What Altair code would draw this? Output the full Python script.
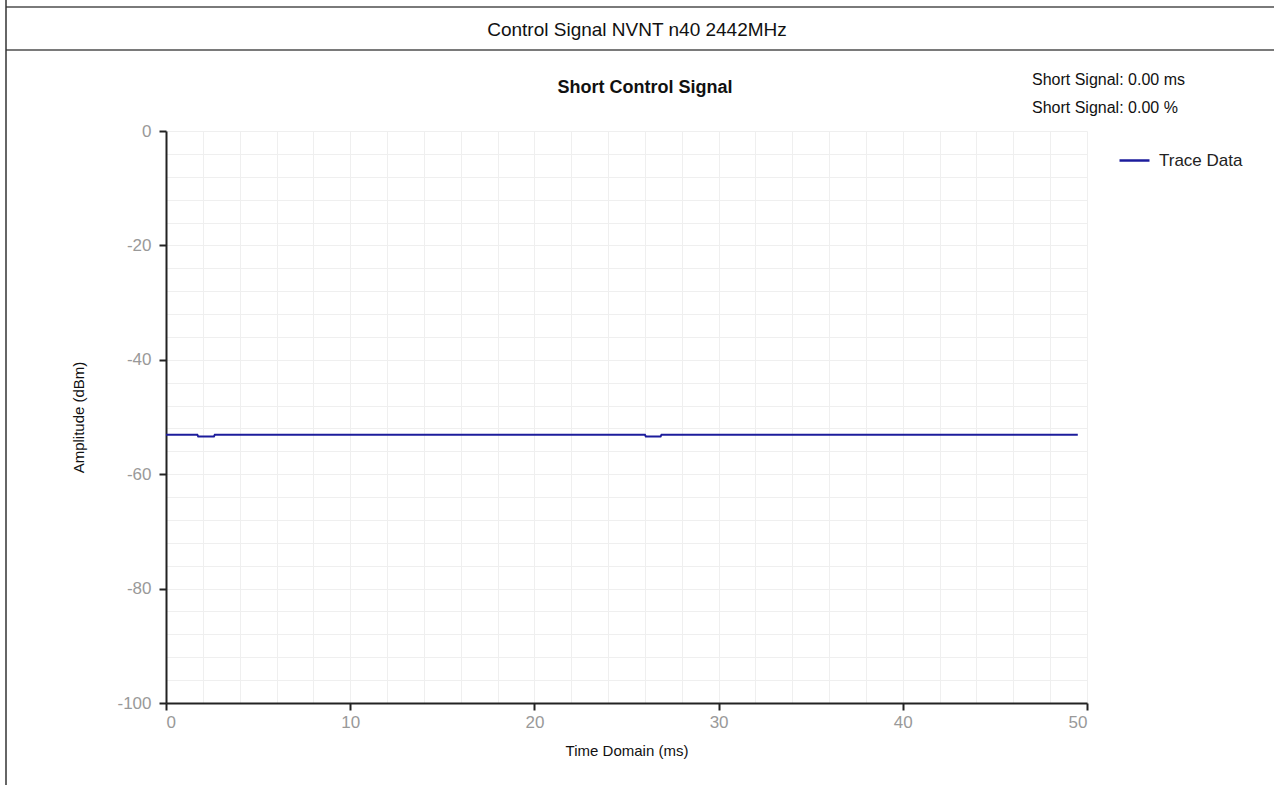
import altair as alt
import pandas as pd

# Trace samples: time (ms) and amplitude (dBm)
time_ms = [0.0, 1.7, 1.75, 2.6, 2.65, 26.0, 26.05, 26.85, 26.9, 49.5]
amplitude_dbm = [-53.1, -53.1, -53.4, -53.4, -53.1, -53.1, -53.4, -53.4, -53.1, -53.1]
series_name = ["Trace Data"] * len(time_ms)

page_title = ["Control Signal NVNT n40 2442MHz"]
chart_title = ["Short Control Signal"]
result_lines = ["Short Signal: 0.00 ms", "Short Signal: 0.00 %"]

x_ticks = list(range(0, 51, 2))
y_ticks = list(range(-100, 1, 4))

NARROW = "Liberation Sans Narrow, Arial Narrow, Liberation Sans, Arial, sans-serif"
SANS = "Liberation Sans, Arial, sans-serif"
LINE_COLOR = "#1c1c9c"
FRAME = "#7a7a7a"

W, H = 921, 572
PAD_L, PAD_T = 166, 131
PAGE_W, PAGE_H = 1274, 785

trace = pd.DataFrame({"t": time_ms, "a": amplitude_dbm, "s": series_name})

line = alt.Chart(trace).mark_line(strokeWidth=2, clip=True).encode(
    x=alt.X(
        "t:Q",
        scale=alt.Scale(domain=[0, 50], nice=False, zero=False),
        axis=alt.Axis(
            values=x_ticks,
            labelExpr="datum.value % 10 == 0 ? '' + datum.value : ''",
            tickOpacity={"condition": {"test": "datum.value % 10 == 0", "value": 1}, "value": 0},
            title="Time Domain (ms)",
            titleY=47,
            titleBaseline="middle",
        ),
    ),
    y=alt.Y(
        "a:Q",
        scale=alt.Scale(domain=[-100, 0], nice=False, zero=False),
        axis=alt.Axis(
            values=y_ticks,
            labelExpr="datum.value % 20 == 0 ? '' + datum.value : ''",
            tickOpacity={"condition": {"test": "datum.value % 20 == 0", "value": 1}, "value": 0},
            title="Amplitude (dBm)",
            titleX=-88,
            titleY=286,
            titleBaseline="middle",
            titleAngle=270,
        ),
    ),
    color=alt.Color(
        "s:N",
        scale=alt.Scale(range=[LINE_COLOR]),
        legend=alt.Legend(
            title=None,
            orient="none",
            legendX=952,
            legendY=13,
            symbolType="stroke",
            symbolSize=900,
            symbolStrokeWidth=2.5,
            labelFont=NARROW,
            labelFontSize=17,
            labelColor="#222",
            labelOffset=8,
        ),
    ),
)


def text_layer(values, x, y, size, font, weight="normal", align="left"):
    df = pd.DataFrame({"label": values})
    return alt.Chart(df).mark_text(
        align=align, baseline="middle", fontSize=size, font=font,
        fontWeight=weight, color="#111",
    ).encode(text="label:N", x=alt.value(x), y=alt.value(y))


title_txt = text_layer(page_title, PAGE_W / 2 - PAD_L, 30 - PAD_T, 19, SANS, align="center")
chart_title_txt = text_layer(chart_title, 479, -43, 18, NARROW, weight="bold", align="center")
result_1 = text_layer(result_lines[:1], 866, -51, 16, NARROW)
result_2 = text_layer(result_lines[1:], 866, -23, 16, NARROW)

# Table frame around the chart
frame_df = pd.DataFrame({"k": [0]})
top_rule = alt.Chart(frame_df).mark_rule(color=FRAME, strokeWidth=2).encode(
    x=alt.value(-PAD_L + 6), x2=alt.value(PAGE_W - PAD_L), y=alt.value(7 - PAD_T)
)
mid_rule = alt.Chart(frame_df).mark_rule(color=FRAME, strokeWidth=2).encode(
    x=alt.value(-PAD_L + 6), x2=alt.value(PAGE_W - PAD_L), y=alt.value(50 - PAD_T)
)
left_rule = alt.Chart(frame_df).mark_rule(color="#333", strokeWidth=1.5).encode(
    x=alt.value(6 - PAD_L), y=alt.value(-PAD_T), y2=alt.value(PAGE_H - PAD_T)
)

chart = alt.layer(
    line, title_txt, chart_title_txt, result_1, result_2, top_rule, mid_rule, left_rule
).properties(
    width=W,
    height=H,
    autosize=alt.AutoSizeParams(type="none"),
    padding={"left": PAD_L, "top": PAD_T, "right": PAGE_W - PAD_L - W, "bottom": PAGE_H - PAD_T - H},
    background="white",
).configure_view(
    stroke=None
).configure_axis(
    grid=True,
    gridColor="#efefef",
    gridWidth=1,
    domainColor="#222",
    domainWidth=2,
    tickColor="#222",
    tickWidth=2,
    tickSize=7,
    labelColor="#999",
    labelFont=SANS,
    labelFontSize=17,
    titleFont=NARROW,
    titleFontSize=15,
    titleFontWeight="normal",
    titleColor="#111",
).configure_axisX(
    labelPadding=4,
).configure_axisY(
    labelPadding=8,
)

chart.save("out.html", embed_options={"renderer": "svg", "actions": False})
